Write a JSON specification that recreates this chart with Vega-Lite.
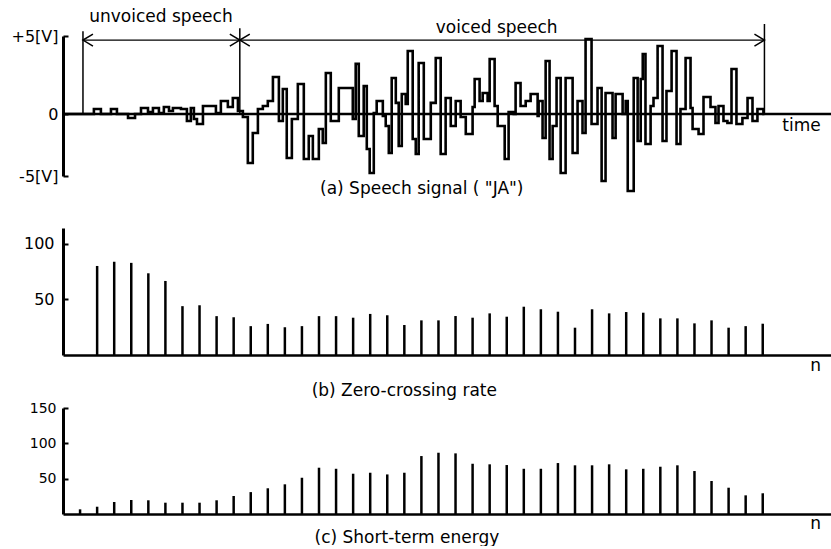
{
  "$schema": "https://vega.github.io/schema/vega-lite/v6.json",
  "background": "white",
  "padding": {"left": 10, "top": 7, "right": 0, "bottom": 0},
  "config": {
    "view": {"stroke": null},
    "font": "DejaVu Sans",
    "axis": {"grid": false, "domainColor": "black", "tickColor": "black", "labelColor": "black", "labelFont": "DejaVu Sans", "title": null}
  },
  "bounds": "flush",
  "spacing": 47,
  "datasets": {
    "signal": [
      {"t": 0, "v": 0}, {"t": 12.3, "v": 0}, {"t": 18.1, "v": 0.32}, {"t": 22.2, "v": 0}, {"t": 28.1, "v": 0.32}, {"t": 31.6, "v": 0},
      {"t": 38.1, "v": -0.32}, {"t": 42.2, "v": 0}, {"t": 45.7, "v": 0.38}, {"t": 49.8, "v": 0.13}, {"t": 52.7, "v": 0.38},
      {"t": 56.2, "v": 0.06}, {"t": 59.1, "v": 0.45}, {"t": 62.1, "v": 0.19}, {"t": 64.4, "v": 0.38}, {"t": 69.1, "v": 0.32},
      {"t": 72.6, "v": -0.56}, {"t": 74.9, "v": 0.38}, {"t": 76.7, "v": -0.4}, {"t": 78.5, "v": -0.81}, {"t": 82.0, "v": 0.51},
      {"t": 89.6, "v": 0.06}, {"t": 92.5, "v": 0.83}, {"t": 96.6, "v": 0.45}, {"t": 99.5, "v": 1.03}, {"t": 102.5, "v": 0.19},
      {"t": 105.4, "v": -0.24}, {"t": 108.3, "v": -3.95}, {"t": 111.2, "v": -1.53}, {"t": 114.2, "v": 0.32}, {"t": 117.1, "v": 0.51},
      {"t": 120.0, "v": 0.83}, {"t": 123.0, "v": 2.37}, {"t": 126.5, "v": -0.56}, {"t": 128.8, "v": 1.6}, {"t": 131.1, "v": -3.55},
      {"t": 134.1, "v": -0.4}, {"t": 137.6, "v": 1.92}, {"t": 141.1, "v": -3.63}, {"t": 144.0, "v": -1.77}, {"t": 146.4, "v": -3.63},
      {"t": 149.9, "v": -1.21}, {"t": 152.2, "v": -2.34}, {"t": 154.0, "v": 2.63}, {"t": 156.9, "v": -0.56}, {"t": 161.6, "v": 1.67},
      {"t": 169.8, "v": -0.4}, {"t": 171.5, "v": 3.21}, {"t": 173.3, "v": -1.77}, {"t": 176.2, "v": 1.79}, {"t": 178.0, "v": -2.82},
      {"t": 179.7, "v": -4.76}, {"t": 182.1, "v": 0.06}, {"t": 183.8, "v": 0.83}, {"t": 187.4, "v": -0.16}, {"t": 189.1, "v": -0.97},
      {"t": 190.9, "v": -3.15}, {"t": 192.6, "v": 2.31}, {"t": 195.0, "v": 0.71}, {"t": 196.7, "v": -2.58}, {"t": 198.5, "v": 1.28},
      {"t": 200.8, "v": 0.64}, {"t": 202.0, "v": 4.04}, {"t": 204.9, "v": -2.02}, {"t": 206.7, "v": -3.23}, {"t": 208.4, "v": 3.27},
      {"t": 211.4, "v": -2.02}, {"t": 215.5, "v": 0.71}, {"t": 218.4, "v": 3.59}, {"t": 221.3, "v": -3.23}, {"t": 224.2, "v": 1.03},
      {"t": 227.2, "v": -0.97}, {"t": 230.1, "v": 0.83}, {"t": 233.0, "v": -0.24}, {"t": 236.0, "v": -1.61}, {"t": 240.0, "v": 0.45},
      {"t": 241.2, "v": 2.24}, {"t": 244.1, "v": 0.83}, {"t": 245.9, "v": 1.35}, {"t": 248.8, "v": 0.83}, {"t": 250.0, "v": 3.53},
      {"t": 252.9, "v": 0.51}, {"t": 254.7, "v": -0.97}, {"t": 258.8, "v": -3.63}, {"t": 261.1, "v": 0.13}, {"t": 264.1, "v": 0},
      {"t": 265.2, "v": 1.99}, {"t": 268.1, "v": 0.51}, {"t": 271.1, "v": 0.83}, {"t": 274.0, "v": 1.28}, {"t": 278.1, "v": -0.16},
      {"t": 278.7, "v": 0.83}, {"t": 281.0, "v": -1.94}, {"t": 282.8, "v": 3.4}, {"t": 285.1, "v": -3.63}, {"t": 286.9, "v": -0.97},
      {"t": 289.2, "v": 2.31}, {"t": 291.6, "v": -4.76}, {"t": 294.5, "v": 2.31}, {"t": 298.6, "v": -3.15}, {"t": 301.5, "v": 0.83},
      {"t": 304.4, "v": -1.53}, {"t": 306.2, "v": 4.81}, {"t": 309.7, "v": -0.81}, {"t": 313.2, "v": 1.67}, {"t": 315.6, "v": -5.4},
      {"t": 317.9, "v": 1.35}, {"t": 322.0, "v": -1.94}, {"t": 323.8, "v": 1.28}, {"t": 327.9, "v": 0}, {"t": 329.7, "v": 0.83},
      {"t": 330.9, "v": -6.21}, {"t": 334.4, "v": 2.31}, {"t": 336.7, "v": -2.18}, {"t": 338.5, "v": 2.24}, {"t": 339.7, "v": 3.85},
      {"t": 341.3, "v": -2.42}, {"t": 344.3, "v": 0.51}, {"t": 346.0, "v": 1.03}, {"t": 348.4, "v": 4.36}, {"t": 351.3, "v": -2.18},
      {"t": 353.6, "v": 1.47}, {"t": 356.6, "v": 4.04}, {"t": 359.5, "v": -2.42}, {"t": 361.8, "v": 0.32}, {"t": 364.8, "v": 3.59},
      {"t": 367.7, "v": 0.38}, {"t": 368.9, "v": -1.21}, {"t": 372.4, "v": -1.61}, {"t": 375.3, "v": 1.09}, {"t": 379.4, "v": 0.45},
      {"t": 382.3, "v": -0.73}, {"t": 384.1, "v": 0.51}, {"t": 387.0, "v": -0.56}, {"t": 389.3, "v": -0.73}, {"t": 391.7, "v": 2.88},
      {"t": 394.6, "v": -0.81}, {"t": 398.1, "v": -0.32}, {"t": 401.1, "v": 1.03}, {"t": 404.0, "v": -0.56}, {"t": 406.9, "v": 0.32},
      {"t": 410.4, "v": 0}, {"t": 411.0, "v": 0}
    ],
    "zcr": [
      {"n": 2, "z": 80.2}, {"n": 3, "z": 84}, {"n": 4, "z": 83}, {"n": 5, "z": 73.6}, {"n": 6, "z": 66.7},
      {"n": 7, "z": 44}, {"n": 8, "z": 44.8}, {"n": 9, "z": 35}, {"n": 10, "z": 34}, {"n": 11, "z": 26},
      {"n": 12, "z": 28}, {"n": 13, "z": 25}, {"n": 14, "z": 26}, {"n": 15, "z": 35}, {"n": 16, "z": 35},
      {"n": 17, "z": 33.6}, {"n": 18, "z": 37}, {"n": 19, "z": 35.8}, {"n": 20, "z": 27}, {"n": 21, "z": 31.2},
      {"n": 22, "z": 31.2}, {"n": 23, "z": 35.1}, {"n": 24, "z": 33.6}, {"n": 25, "z": 37.5}, {"n": 26, "z": 34.5},
      {"n": 27, "z": 43.5}, {"n": 28, "z": 41.2}, {"n": 29, "z": 39}, {"n": 30, "z": 24.6}, {"n": 31, "z": 41.2},
      {"n": 32, "z": 37.5}, {"n": 33, "z": 38.7}, {"n": 34, "z": 38.1}, {"n": 35, "z": 33}, {"n": 36, "z": 33},
      {"n": 37, "z": 28.5}, {"n": 38, "z": 31.2}, {"n": 39, "z": 24.6}, {"n": 40, "z": 26}, {"n": 41, "z": 28.2}
    ],
    "energy": [
      {"n": 1, "e": 6.6}, {"n": 2, "e": 10.3}, {"n": 3, "e": 17}, {"n": 4, "e": 19.8}, {"n": 5, "e": 19.4},
      {"n": 6, "e": 16}, {"n": 7, "e": 16}, {"n": 8, "e": 16}, {"n": 9, "e": 19.4}, {"n": 10, "e": 25.5},
      {"n": 11, "e": 31}, {"n": 12, "e": 36.4}, {"n": 13, "e": 42}, {"n": 14, "e": 51.3}, {"n": 15, "e": 65.5},
      {"n": 16, "e": 64}, {"n": 17, "e": 57}, {"n": 18, "e": 58.4}, {"n": 19, "e": 56}, {"n": 20, "e": 58.4},
      {"n": 21, "e": 82}, {"n": 22, "e": 86.7}, {"n": 23, "e": 85.8}, {"n": 24, "e": 71.1}, {"n": 25, "e": 70.3},
      {"n": 26, "e": 69.3}, {"n": 27, "e": 64}, {"n": 28, "e": 64}, {"n": 29, "e": 72.1}, {"n": 30, "e": 68.9},
      {"n": 31, "e": 68.9}, {"n": 32, "e": 70.3}, {"n": 33, "e": 63.2}, {"n": 34, "e": 64}, {"n": 35, "e": 66.9},
      {"n": 36, "e": 68.9}, {"n": 37, "e": 60.8}, {"n": 38, "e": 46.7}, {"n": 39, "e": 37.2}, {"n": 40, "e": 26.4},
      {"n": 41, "e": 29.3}
    ]
  },
  "vconcat": [
    {
      "width": 768,
      "height": 150,
      "encoding": {
        "x": {"field": "t", "type": "quantitative", "scale": {"domain": [0, 450], "nice": false, "zero": false}, "axis": null},
        "y": {
          "field": "v", "type": "quantitative",
          "scale": {"domain": [-5, 0, 5], "range": [145, 83, 5], "nice": false, "zero": false},
          "axis": {
            "values": [-5, 0, 5],
            "labelExpr": "datum.value > 0 ? '+5[V]' : (datum.value < 0 ? '-5[V]' : '0')",
            "tickSize": -5, "tickWidth": 2, "labelPadding": 10, "domainWidth": 3,
            "labelFontSize": 16
          }
        }
      },
      "layer": [
        {
          "data": {"values": [{"t": 0, "t2": 450, "v": 0}]},
          "mark": {"type": "rule", "strokeWidth": 2.5, "color": "black"},
          "encoding": {"x2": {"field": "t2"}}
        },
        {
          "data": {"name": "signal"},
          "mark": {"type": "line", "interpolate": "step-after", "strokeWidth": 2.6, "color": "black"},
          "encoding": {}
        },
        {
          "data": {"values": [{"t": 11.7, "v": 0, "v2": 5.3}, {"t": 103.6, "v": 0, "v2": 5.5}, {"t": 411, "v": 0, "v2": 5.77}]},
          "mark": {"type": "rule", "strokeWidth": 1.5, "color": "black"},
          "encoding": {"y2": {"field": "v2"}}
        },
        {
          "data": {"values": [{"t": 11.7, "t2": 411, "v": 4.74}]},
          "mark": {"type": "rule", "strokeWidth": 1.3, "color": "black"},
          "encoding": {"x2": {"field": "t2"}}
        },
        {
          "data": {"values": [
            {"g": "l", "k": 0, "t": 17.55, "v": 5.125}, {"g": "l", "k": 1, "t": 11.7, "v": 4.74}, {"g": "l", "k": 2, "t": 17.55, "v": 4.355},
            {"g": "m1", "k": 0, "t": 97.75, "v": 5.125}, {"g": "m1", "k": 1, "t": 103.6, "v": 4.74}, {"g": "m1", "k": 2, "t": 97.75, "v": 4.355},
            {"g": "m2", "k": 0, "t": 109.45, "v": 5.125}, {"g": "m2", "k": 1, "t": 103.6, "v": 4.74}, {"g": "m2", "k": 2, "t": 109.45, "v": 4.355},
            {"g": "r", "k": 0, "t": 405.15, "v": 5.125}, {"g": "r", "k": 1, "t": 411, "v": 4.74}, {"g": "r", "k": 2, "t": 405.15, "v": 4.355}
          ]},
          "mark": {"type": "line", "strokeWidth": 1.5, "color": "black"},
          "encoding": {"detail": {"field": "g"}, "order": {"field": "k", "type": "quantitative"}}
        },
        {
          "data": {"values": [
            {"t": 57.4, "v": 5.9, "label": "unvoiced speech"},
            {"t": 254.1, "v": 5.19, "label": "voiced speech"}
          ]},
          "mark": {"type": "text", "align": "center", "baseline": "alphabetic", "fontSize": 17, "font": "DejaVu Sans", "color": "black"},
          "encoding": {"text": {"field": "label"}}
        },
        {
          "data": {"values": [
            {"t": 432.7, "v": -1.37, "label": "time"},
            {"t": 210.2, "v": -6.45, "label": "(a) Speech signal ( \"JA\")"}
          ]},
          "mark": {"type": "text", "align": "center", "baseline": "alphabetic", "fontSize": 17, "font": "DejaVu Sans", "color": "black"},
          "encoding": {"text": {"field": "label"}}
        }
      ]
    },
    {
      "bounds": "flush",
      "spacing": 53,
      "vconcat": [
        {
          "width": 768,
          "height": 127,
          "encoding": {
            "x": {"field": "n", "type": "quantitative", "scale": {"domain": [0, 45], "nice": false, "zero": false},
                  "axis": {"orient": "bottom", "domainWidth": 2.5, "ticks": false, "labels": false}},
            "y": {"field": "z", "type": "quantitative", "scale": {"domain": [0, 114.4], "nice": false},
                  "axis": {"values": [50, 100], "tickSize": -5, "tickWidth": 2, "labelPadding": 14, "domainWidth": 3, "labelFontSize": 16}}
          },
          "layer": [
            {
              "data": {"name": "zcr"},
              "mark": {"type": "rule", "strokeWidth": 2.5, "color": "black"},
              "encoding": {"y2": {"datum": 0}}
            },
            {
              "data": {"values": [
                {"n": 44.1, "z": -14.4, "label": "n"},
                {"n": 20, "z": -36.9, "label": "(b) Zero-crossing rate"}
              ]},
              "mark": {"type": "text", "align": "center", "baseline": "alphabetic", "fontSize": 17, "font": "DejaVu Sans", "color": "black"},
              "encoding": {"text": {"field": "label"}}
            }
          ]
        },
        {
          "width": 768,
          "height": 106,
          "encoding": {
            "x": {"field": "n", "type": "quantitative", "scale": {"domain": [0, 45], "nice": false, "zero": false},
                  "axis": {"orient": "bottom", "domainWidth": 2.5, "ticks": false, "labels": false}},
            "y": {"field": "e", "type": "quantitative", "scale": {"domain": [0, 150], "nice": false},
                  "axis": {"values": [50, 100, 150], "tickSize": -5, "tickWidth": 2, "labelPadding": 12, "domainWidth": 3, "labelFontSize": 14}}
          },
          "layer": [
            {
              "data": {"name": "energy"},
              "mark": {"type": "rule", "strokeWidth": 2.5, "color": "black"},
              "encoding": {"y2": {"datum": 0}}
            },
            {
              "data": {"values": [
                {"n": 44.1, "e": -21.2, "label": "n"},
                {"n": 20.15, "e": -41, "label": "(c) Short-term energy"}
              ]},
              "mark": {"type": "text", "align": "center", "baseline": "alphabetic", "fontSize": 17, "font": "DejaVu Sans", "color": "black"},
              "encoding": {"text": {"field": "label"}}
            }
          ]
        }
      ]
    }
  ]
}
